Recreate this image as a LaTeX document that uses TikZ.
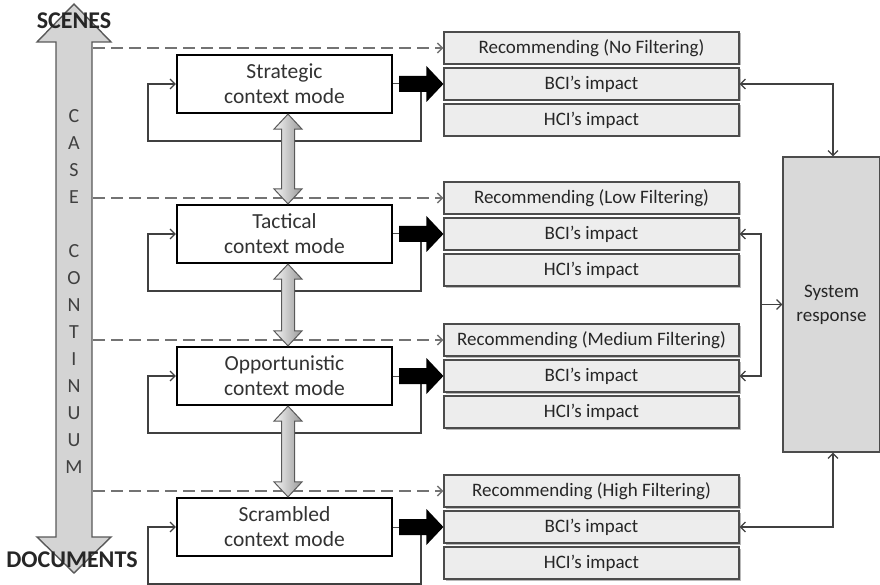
\documentclass[tikz,border=0pt]{standalone}
\usepackage{fontspec}
\setmainfont{Carlito}
\usetikzlibrary{arrows.meta,calc,shadows}
\begin{document}
\begin{tikzpicture}[x=1pt,y=-1pt,
  >={Straight Barb[length=5pt,width=10pt]},
  modebox/.style={draw=black, line width=2.2pt, fill=white, minimum width=215pt, minimum height=58pt, align=center, text=black!80, font=\fontsize{21.5}{25}\selectfont, inner sep=0pt},
  recbox/.style={draw=black!70, line width=1.2pt, fill=black!7, minimum width=295pt, minimum height=32pt, text=black!85, font=\fontsize{19}{22}\selectfont, inner sep=0pt, drop shadow={shadow xshift=1.5pt, shadow yshift=-1.5pt, fill=black!55}},
  sysbox/.style={draw=black!70, line width=1.2pt, fill=black!15, minimum width=97pt, minimum height=295pt, align=center, text=black!85, font=\fontsize{19}{24}\selectfont, inner sep=0pt},
  conn/.style={draw=black!75, line width=1.2pt},
  dashline/.style={draw=black!55, line width=1.4pt, dash pattern=on 12pt off 6pt},
  bigarrow/.style={fill=black!17, draw=black!65, line width=1.4pt},
  darrow/.style={left color=black!4, right color=black!40, draw=black!65, line width=1pt},
  letter/.style={text=black!75, font=\fontsize{20}{20}\selectfont, inner sep=0pt},
  endlabel/.style={text=black!85, font=\fontsize{24}{24}\selectfont\bfseries, inner sep=0pt}
]
\useasboundingbox (0,0) rectangle (880,585);

% big case continuum arrow
\path[bigarrow] (74,4) -- (111,42) -- (92,42) -- (92,537) -- (111,537) -- (74,573) -- (37,537) -- (56,537) -- (56,42) -- (37,42) -- cycle;
\node[endlabel] (scenes) at (74,21) {SCENES};
\node[endlabel] (documents) at (72,560) {DOCUMENTS};
\foreach \l/\yy [count=\i] in {C/116, A/143, S/170, E/197, C/251, O/278, N/305, T/332, I/359, N/386, U/413, U/440, M/467}
  \node[letter] (L\i) at (74,\yy) {\l};

% mode rows
\foreach \m/\y/\t/\f in {strat/84/Strategic/No, tact/234/Tactical/Low, opp/376/Opportunistic/Medium, scr/527/Scrambled/High} {
  \node[modebox] (\m-mode) at (284.5,\y) {\t\\context mode};
  \node[recbox] (\m-rec) at (591.5,\y-36) {Recommending (\f\ Filtering)};
  \node[recbox] (\m-bci) at (591.5,\y) {BCI’s impact};
  \node[recbox] (\m-hci) at (591.5,\y+36) {HCI’s impact};
  \coordinate (\m-ds) at (93,\y-36);
  \draw[dashline,->] (\m-ds) -- (\m-rec.west);
  \coordinate (\m-lp) at (421,\y+8);
  \draw[conn,->] (\m-lp) |- (148,\y+57) |- (\m-mode.west);
  \draw[black!70, line width=1pt] (\m-mode.east) -- ++(6,0);
  \fill[black] let \p1=(\m-mode.east), \p2=(\m-bci.west) in
    (\x1+6pt,\y1+8pt) -- (\x2-17pt,\y1+8pt) -- (\x2-17pt,\y1+18pt) -- (\x2,\y1) -- (\x2-17pt,\y1-18pt) -- (\x2-17pt,\y1-8pt) -- (\x1+6pt,\y1-8pt) -- cycle;
}

% double arrows between modes
\foreach \a/\b in {strat/tact, tact/opp, opp/scr}
  \path[darrow] let \p1=([xshift=3.5pt]\a-mode.south), \p2=([xshift=3.5pt]\b-mode.north) in
    (\x1,\y1) -- (\x1+14pt,\y1-15pt) -- (\x1+6.5pt,\y1-15pt) -- (\x1+6.5pt,\y2+15pt) -- (\x1+14pt,\y2+15pt) -- (\x1,\y2) -- (\x1-14pt,\y2+15pt) -- (\x1-6.5pt,\y2+15pt) -- (\x1-6.5pt,\y1-15pt) -- (\x1-14pt,\y1-15pt) -- cycle;

% system response
\node[sysbox] (sys) at (831.5,304.5) {System\\response};
\draw[conn,<->] (strat-bci.east) -| ([xshift=1.5pt]sys.north);
\draw[conn,<->] (scr-bci.east) -| ([xshift=1.5pt]sys.south);
\coordinate (jn) at (761,304.5);
\draw[conn,<->] (tact-bci.east) -| (jn) |- (opp-bci.east);
\draw[conn,->] (jn) -- (sys.west);
\end{tikzpicture}
\end{document}
